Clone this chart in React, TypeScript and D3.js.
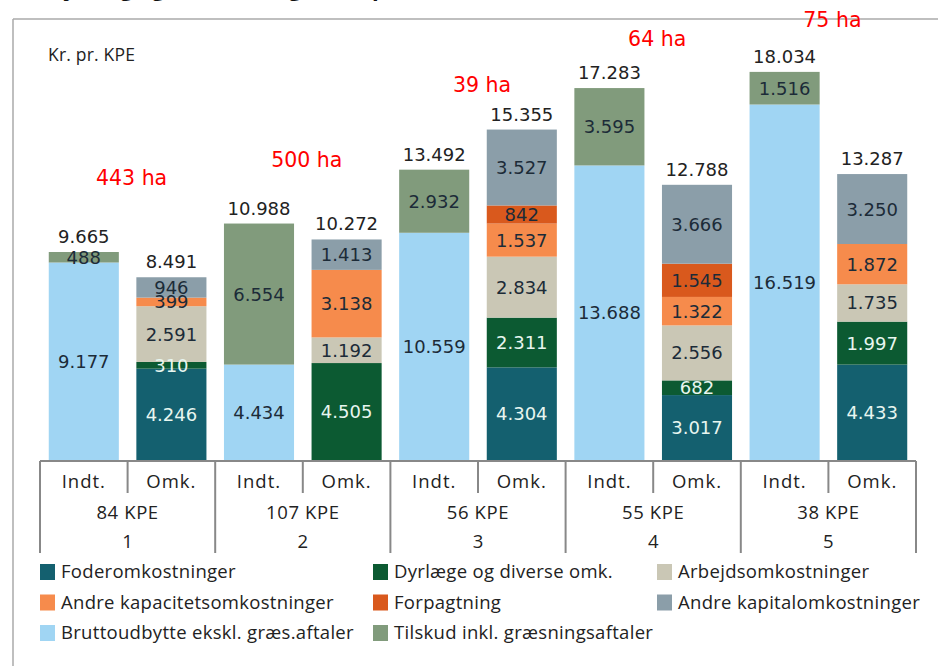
import React, { useEffect } from "react";
import * as d3 from "d3";

// groups and their annotations
const groups = ["1", "2", "3", "4", "5"];
const kpe = [84, 107, 56, 55, 38];
const haText = ["443 ha", "500 ha", "39 ha", "64 ha", "75 ha"];
const haLevel = [12780, 13620, 17100, 19240, 20120]; // kr. level where the red note sits

// Indt. bars
const brutto = [9177, 4434, 10559, 13688, 16519];
const tilskud = [488, 6554, 2932, 3595, 1516];
const indtTotals = [9665, 10988, 13492, 17283, 18034];

// Omk. bars
const foder = [4246, 0, 4304, 3017, 4433];
const dyrlaege = [310, 4505, 2311, 682, 1997];
const arbejd = [2591, 1192, 2834, 2556, 1735];
const andreKap = [399, 3138, 1537, 1322, 1872];
const forpagt = [0, 0, 842, 1545, 0];
const kapital = [946, 1413, 3527, 3666, 3250];
const omkTotals = [8491, 10272, 15355, 12788, 13287];

const series = [
  { key: "foder", name: "Foderomkostninger", color: "#14606f", light: true },
  { key: "dyrlaege", name: "Dyrlæge og diverse omk.", color: "#0c5a32", light: true },
  { key: "arbejd", name: "Arbejdsomkostninger", color: "#cac7b5", light: false },
  { key: "andreKap", name: "Andre kapacitetsomkostninger", color: "#f68b4c", light: false },
  { key: "forpagt", name: "Forpagtning", color: "#d9591d", light: false },
  { key: "kapital", name: "Andre kapitalomkostninger", color: "#8b9ea9", light: false },
  { key: "brutto", name: "Bruttoudbytte ekskl. græs.aftaler", color: "#a0d5f3", light: false },
  { key: "tilskud", name: "Tilskud inkl. græsningsaftaler", color: "#819b7c", light: false },
];

const legendOrder = [
  ["foder", "andreKap", "brutto"],
  ["dyrlaege", "forpagt", "tilskud"],
  ["arbejd", "kapital"],
];

const numFmt = d3.formatLocale({ decimal: ",", thousands: ".", grouping: [3], currency: ["", " kr"] }).format(",d");

const W = 938;
const H = 666;
const baseY = 460;

export default function App() {
  useEffect(() => {
    document.body.style.margin = "0";
  }, []);

  const bars = groups.flatMap((g, i) => [
    { id: `${g}-i`, group: i, kind: "Indt.", values: { brutto: brutto[i], tilskud: tilskud[i] }, keys: ["brutto", "tilskud"], total: indtTotals[i] },
    {
      id: `${g}-o`,
      group: i,
      kind: "Omk.",
      values: { foder: foder[i], dyrlaege: dyrlaege[i], arbejd: arbejd[i], andreKap: andreKap[i], forpagt: forpagt[i], kapital: kapital[i] },
      keys: ["foder", "dyrlaege", "arbejd", "andreKap", "forpagt", "kapital"],
      total: omkTotals[i],
    },
  ]);

  const x = d3.scaleBand().domain(bars.map(b => b.id)).range([40, 916]).paddingInner(0.2).paddingOuter(0.1);
  const y = d3.scaleLinear().domain([0, 20000]).range([baseY, baseY - 430.4]);
  const groupX = d3.scaleBand().domain(groups).range([40, 916]);
  const byKey = Object.fromEntries(series.map(s => [s.key, s]));

  const numFont = "'DejaVu Sans', sans-serif";
  const txtFont = "'Open Sans', sans-serif";

  return (
    <svg width={W} height={H} style={{ display: "block", background: "#fff" }}>
      {/* cut-off title */}
      <text x={20} y={-4} fontFamily={txtFont} fontWeight="bold" fontSize={22} fill="#111">
        Indtjening og omkostninger, kr. pr. KPE
      </text>
      {/* frame */}
      <line x1={13} x2={W} y1={19} y2={19} stroke="#aaa" strokeWidth={1.5} />
      <line x1={13} x2={13} y1={19} y2={H} stroke="#aaa" strokeWidth={1.5} />
      <text x={48} y={61} fontFamily={txtFont} fontSize={17.5} fill="#222" letterSpacing={0.2}>
        Kr. pr. KPE
      </text>

      {bars.map(b => {
        const stack = d3.stack().keys(b.keys)([b.values]);
        const x0 = x(b.id);
        const bw = x.bandwidth();
        return (
          <g key={b.id}>
            {stack.map(layer => {
              const [lo, hi] = layer[0];
              if (hi - lo <= 0) return null;
              const s = byKey[layer.key];
              return (
                <rect key={layer.key} x={x0} y={y(hi)} width={bw} height={y(lo) - y(hi)} fill={s.color} />
              );
            })}
            {stack.map(layer => {
              const [lo, hi] = layer[0];
              if (hi - lo <= 0) return null;
              const s = byKey[layer.key];
              return (
                <text
                  key={layer.key + "-t"}
                  x={x0 + bw / 2}
                  y={(y(lo) + y(hi)) / 2}
                  dy="0.36em"
                  textAnchor="middle"
                  fontFamily={numFont}
                  fontSize={18}
                  fill={s.light ? "#e8f6f0" : "#1c2b38"}
                >
                  {numFmt(hi - lo)}
                </text>
              );
            })}
            <text
              x={x0 + bw / 2}
              y={y(d3.sum(b.keys, k => b.values[k])) - 9}
              textAnchor="middle"
              fontFamily={numFont}
              fontSize={18}
              fill="#222"
            >
              {numFmt(b.total)}
            </text>
            <text x={x0 + bw / 2} y={488} textAnchor="middle" fontFamily={txtFont} fontSize={18.5} fill="#222" letterSpacing={1}>
              {b.kind}
            </text>
          </g>
        );
      })}

      {/* category axis */}
      <line x1={40} x2={916} y1={461} y2={461} stroke="#888" strokeWidth={2} />
      {d3.range(groups.length + 1).map(i => {
        const gx = 40 + i * groupX.step();
        return <line key={"L" + i} x1={gx} x2={gx} y1={461} y2={553} stroke="#888" strokeWidth={2} />;
      })}
      {groups.map((g, i) => {
        const cx = groupX(g) + groupX.bandwidth() / 2;
        return (
          <g key={"g" + g}>
            <line x1={cx} x2={cx} y1={461} y2={493} stroke="#888" strokeWidth={2} />
            <text x={cx} y={519} textAnchor="middle" fontFamily={txtFont} fontSize={18.5} fill="#222" letterSpacing={0.6}>
              {kpe[i]} KPE
            </text>
            <text x={cx} y={548} textAnchor="middle" fontFamily={txtFont} fontSize={18.5} fill="#222">
              {g}
            </text>
            <text x={cx + 4} y={y(haLevel[i])} textAnchor="middle" fontFamily={numFont} fontSize={20.5} fill="#ff0000">
              {haText[i]}
            </text>
          </g>
        );
      })}

      {/* legend */}
      {legendOrder.map((col, ci) =>
        col.map((k, ri) => {
          const s = byKey[k];
          const lx = [40, 373, 657][ci];
          const ly = 564 + ri * 30.5;
          return (
            <g key={k} transform={`translate(${lx},${ly})`}>
              <rect width={15} height={16} fill={s.color} />
              <text x={21} y={14} fontFamily={txtFont} fontSize={18.5} fill="#222" letterSpacing={0.3}>
                {s.name}
              </text>
            </g>
          );
        })
      )}
    </svg>
  );
}
